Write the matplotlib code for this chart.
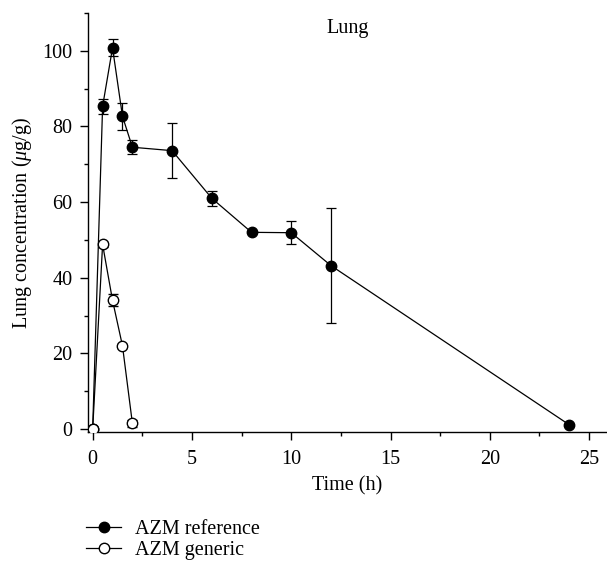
import matplotlib
matplotlib.use("Agg")
import matplotlib.pyplot as plt
from matplotlib.ticker import MultipleLocator
from matplotlib.lines import Line2D

plt.rcParams['font.family'] = ['Liberation Serif', 'DejaVu Serif']
plt.rcParams['mathtext.fontset'] = 'custom'
plt.rcParams['mathtext.it'] = 'Liberation Serif:italic'
plt.rcParams['mathtext.rm'] = 'Liberation Serif'

time_ref = [0, 0.5, 1, 1.5, 2, 4, 6, 8, 10, 12, 24]
conc_ref = [0, 85.3, 100.8, 82.7, 74.5, 73.6, 61.0, 52.0, 51.9, 43.2, 1.1]
err_ref = [0, 2.0, 2.2, 3.6, 1.8, 7.2, 2.0, 0.0, 3.0, 15.2, 0.0]

time_gen = [0, 0.5, 1, 1.5, 2]
conc_gen = [0, 48.8, 34.0, 22.0, 1.5]
err_gen = [0, 0.6, 1.6, 0.5, 1.0]

FS = 14.5

fig = plt.figure(figsize=(6.07, 5.65), dpi=100)
ax = fig.add_axes([0.1445, 0.2354, 0.8555, 0.7416])

lw = 0.9
ax.errorbar(time_ref, conc_ref, yerr=err_ref, color='black', lw=lw, marker='o',
            markersize=7.5, markerfacecolor='black', markeredgecolor='black',
            capsize=3.5, elinewidth=lw, capthick=lw, zorder=3)
ax.errorbar(time_gen, conc_gen, yerr=err_gen, color='black', lw=lw, marker='o',
            markersize=7.5, markerfacecolor='white', markeredgecolor='black',
            markeredgewidth=1.0, capsize=3.5, elinewidth=lw, capthick=lw, zorder=4)

ax.set_xlim(-0.25, 25.9)
ax.set_ylim(-0.8, 110)
ax.xaxis.set_major_locator(MultipleLocator(5))
ax.xaxis.set_minor_locator(MultipleLocator(2.5))
ax.yaxis.set_major_locator(MultipleLocator(20))
ax.yaxis.set_minor_locator(MultipleLocator(10))
ax.spines['top'].set_visible(False)
ax.spines['right'].set_visible(False)
for s in ['left', 'bottom']:
    ax.spines[s].set_linewidth(1.0)
ax.tick_params(which='major', direction='out', length=6, width=1.0, labelsize=FS)
ax.tick_params(axis='x', which='major', pad=7)
ax.tick_params(axis='y', which='major', pad=5)
ax.tick_params(which='minor', direction='out', length=3, width=1.0)

ax.set_xlabel('Time (h)', fontsize=FS, labelpad=5)
ax.set_ylabel(r'Lung concentration ($\mu$g/g)', fontsize=FS, labelpad=6)

fig.text(348 / 607, 1 - 29 / 565, 'Lung', fontsize=FS, ha='center', va='center')

handles = [
    Line2D([], [], color='black', lw=lw, marker='o', markersize=7.5,
           markerfacecolor='black', markeredgecolor='black'),
    Line2D([], [], color='black', lw=lw, marker='o', markersize=7.5,
           markerfacecolor='white', markeredgecolor='black'),
]
fig.legend(handles, ['AZM reference', 'AZM generic'], loc='upper left',
           bbox_to_anchor=(76 / 607, 1 - 510 / 565), frameon=False, fontsize=FS,
           handlelength=1.75, handletextpad=0.7, labelspacing=0.1, borderpad=0)

fig.savefig('out.png', dpi=100)
